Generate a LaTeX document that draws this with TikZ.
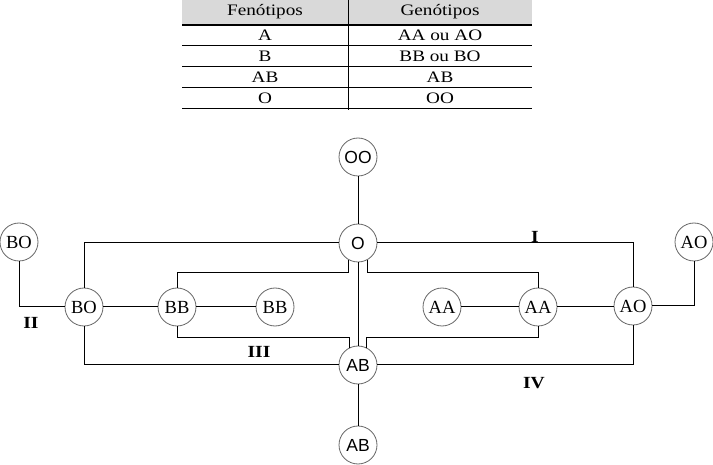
\documentclass[tikz,border=0pt]{standalone}
\usepackage{fontspec}
\setmainfont{Liberation Serif}
\newfontfamily\tabfont{Liberation Serif}[FakeStretch=1.2]
\newfontfamily\lblfont{Liberation Serif}[FakeStretch=1.15]
\newfontfamily\sansf{Liberation Sans}
\begin{document}
\begin{tikzpicture}[x=1pt,y=-1pt,
  gnode/.style={circle,draw=black!60,line width=0.8pt,minimum size=38pt,inner sep=0pt,fill=white,font=\fontsize{18.5}{18.5}\selectfont},
  snode/.style={gnode,font=\sansf\fontsize{17.5}{17.5}\selectfont},
  conn/.style={line width=1pt,black},
  tline/.style={line width=1.2pt,black},
  tcell/.style={font=\tabfont\fontsize{16}{16}\selectfont,inner sep=0pt},
  lbl/.style={font=\lblfont\bfseries\fontsize{17}{17}\selectfont,inner sep=0pt}]
\useasboundingbox (0,0) rectangle (713,465);
% table
\fill[black!15] (182,0) rectangle (532,24.5);
\draw[tline] (182,25) -- (532,25);
\draw[tline] (182,45.5) -- (532,45.5);
\draw[tline] (182,66.5) -- (532,66.5);
\draw[tline] (182,87.5) -- (532,87.5);
\draw[tline] (182,108.5) -- (532,108.5);
\draw[line width=0.9pt] (348,0) -- (348,110);
\node[tcell] (h1) at (265,12) {Fenótipos};
\node[tcell] (h2) at (440,12) {Genótipos};
\node[tcell] (r1a) at (265,35) {A};
\node[tcell] (r1b) at (440,35) {AA ou AO};
\node[tcell] (r2a) at (265,56) {B};
\node[tcell] (r2b) at (440,56) {BB ou BO};
\node[tcell] (r3a) at (265,77) {AB};
\node[tcell] (r3b) at (440,77) {AB};
\node[tcell] (r4a) at (265,98) {O};
\node[tcell] (r4b) at (440,98) {OO};
% coordinates
\coordinate (ya) at (0,273);
\coordinate (yb) at (0,338);
% nodes
\node[snode] (OO) at (358,157) {OO};
\node[snode] (O) at (358,243) {O};
\node[gnode] (BOL) at (19,242) {BO};
\node[gnode] (BO) at (84,307) {BO};
\node[gnode] (BB1) at (177,307) {BB};
\node[gnode] (BB2) at (275,307) {BB};
\node[gnode] (AA1) at (442,307) {AA};
\node[gnode] (AA2) at (538,307) {AA};
\node[gnode] (AO) at (633,306) {AO};
\node[gnode] (AOR) at (694,242) {AO};
\node[snode] (AB) at (358,365) {AB};
\node[snode] (AB2) at (358,445) {AB};
% connectors
\draw[conn] (OO.south) -- (O.north);
\draw[conn] (O.west) -| (BO.north);
\draw[conn] (O.east) -| (AO.north);
\draw[conn] (O.south) -- (AB.north);
\draw[conn] (O.240) -- (O.240 |- ya) -| (BB1.north);
\draw[conn] (O.300) -- (O.300 |- ya) -| (AA2.north);
\draw[conn] (BOL.south) |- (BO.west);
\draw[conn] (BO.east) -- (BB1.west);
\draw[conn] (BB1.east) -- (BB2.west);
\draw[conn] (AA1.east) -- (AA2.west);
\draw[conn] (AA2.east) -- (AA2.east -| AO.west);
\draw[conn] (AO.east) -| (AOR.south);
\draw[conn] (BO.south) |- (AB.west);
\draw[conn] (AO.south) |- (AB.east);
\draw[conn] (BB1.south) |- (AB.117 |- yb) -- (AB.117);
\draw[conn] (AA2.south) |- (AB.63 |- yb) -- (AB.63);
\draw[conn] (AB.south) -- (AB2.north);
% labels
\node[lbl] (lI) at (535,237) {I};
\node[lbl] (lII) at (31,323) {II};
\node[lbl] (lIII) at (259,352) {III};
\node[lbl] (lIV) at (534,383) {IV};
\end{tikzpicture}
\end{document}
